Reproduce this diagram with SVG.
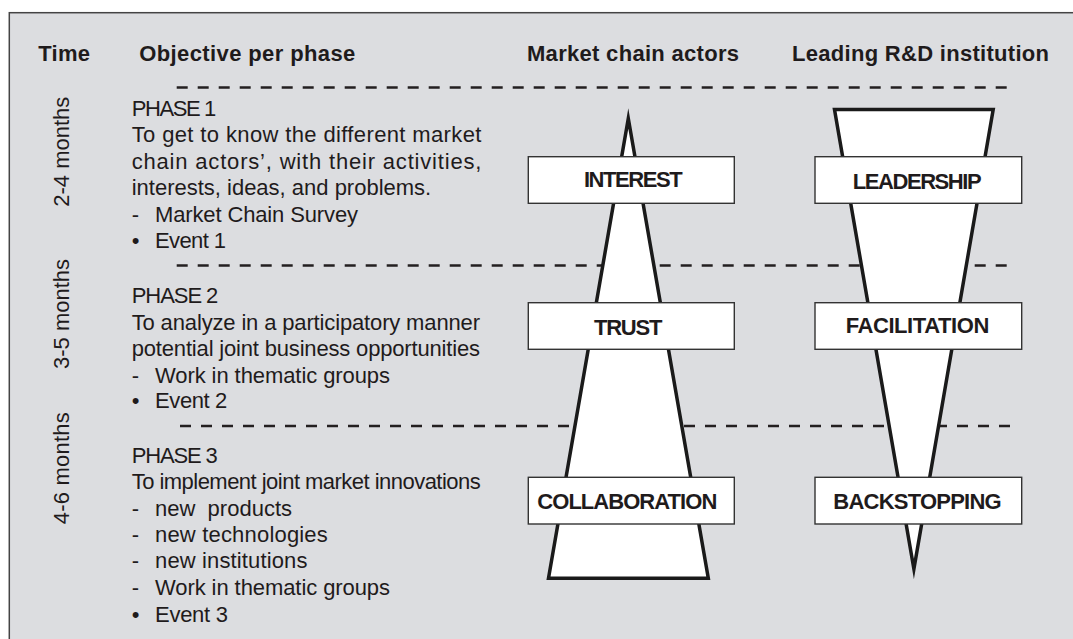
<svg xmlns="http://www.w3.org/2000/svg" width="1073" height="639" viewBox="0 0 1073 639">
<style>
text{font-family:"Liberation Sans",Arial,Helvetica,sans-serif;fill:#1f1b1c}
.h{font-size:22px;font-weight:bold}
.t{font-size:22px}
.v{font-size:22px;text-anchor:middle}
.lbl{font-size:22px;font-weight:bold;text-anchor:middle}
.sep{stroke:#231f20;stroke-width:2.4;stroke-dasharray:11 10;fill:none}
.shape{fill:#fff;stroke:#1a1a1a;stroke-width:3.5;stroke-linejoin:miter;stroke-miterlimit:12}
.box{fill:#fff;stroke:#333;stroke-width:1.4}
</style>
<rect x="0" y="0" width="1073" height="639" fill="#fff"/>
<rect x="9.3" y="12.7" width="1100" height="700" fill="#dcdde0" stroke="#444" stroke-width="1.5"/>

<g id="headers">
<text class="h" x="38.3" y="61" textLength="51.7" lengthAdjust="spacing">Time</text>
<text class="h" x="139.3" y="61" textLength="216" lengthAdjust="spacing">Objective per phase</text>
<text class="h" x="527" y="61" textLength="212" lengthAdjust="spacing">Market chain actors</text>
<text class="h" x="792" y="61" textLength="257" lengthAdjust="spacing">Leading R&amp;D institution</text>
</g>

<g id="time-labels">
<text class="v" transform="translate(68.5,151.7) rotate(-90)" x="0" y="0" textLength="110" lengthAdjust="spacing">2-4 months</text>
<text class="v" transform="translate(68.5,314) rotate(-90)" x="0" y="0" textLength="110" lengthAdjust="spacing">3-5 months</text>
<text class="v" transform="translate(68.5,468.3) rotate(-90)" x="0" y="0" textLength="112" lengthAdjust="spacing">4-6 months</text>
</g>

<g id="connectors">
<line class="sep" x1="176.7" y1="87.5" x2="1009" y2="87.5"/>
<line class="sep" x1="176.7" y1="265.5" x2="1010" y2="265.5"/>
<line class="sep" x1="180" y1="426" x2="1013" y2="426"/>
</g>

<g id="phase1">
<text class="t" x="131.7" y="115.5" textLength="84.5" lengthAdjust="spacing">PHASE 1</text>
<text class="t" x="131.7" y="142" textLength="349.7" lengthAdjust="spacing">To get to know the different market</text>
<text class="t" x="131.7" y="168.5" textLength="349.7" lengthAdjust="spacing">chain actors’, with their activities,</text>
<text class="t" x="131.7" y="195" textLength="299.5" lengthAdjust="spacing">interests, ideas, and problems.</text>
<text class="t" x="131.7" y="221.5">-</text>
<text class="t" x="155" y="221.5" textLength="203" lengthAdjust="spacing">Market Chain Survey</text>
<text class="t" x="131.7" y="248">•</text>
<text class="t" x="155" y="248" textLength="71" lengthAdjust="spacing">Event 1</text>
</g>

<g id="phase2">
<text class="t" x="131.7" y="303.3" textLength="86.6" lengthAdjust="spacing">PHASE 2</text>
<text class="t" x="131.7" y="330" textLength="348.3" lengthAdjust="spacing">To analyze in a participatory manner</text>
<text class="t" x="131.7" y="356" textLength="348.3" lengthAdjust="spacing">potential joint business opportunities</text>
<text class="t" x="131.7" y="382.7">-</text>
<text class="t" x="155" y="382.7" textLength="235" lengthAdjust="spacing">Work in thematic groups</text>
<text class="t" x="131.7" y="408.3">•</text>
<text class="t" x="155" y="408.3" textLength="72.3" lengthAdjust="spacing">Event 2</text>
</g>

<g id="phase3">
<text class="t" x="131.7" y="463" textLength="86" lengthAdjust="spacing">PHASE 3</text>
<text class="t" x="131.7" y="489" textLength="349" lengthAdjust="spacing">To implement joint market innovations</text>
<text class="t" x="131.7" y="515.5">-</text>
<text class="t" x="155" y="515.5" textLength="137" lengthAdjust="spacing" xml:space="preserve">new  products</text>
<text class="t" x="131.7" y="542">-</text>
<text class="t" x="155" y="542" textLength="172.8" lengthAdjust="spacing">new technologies</text>
<text class="t" x="131.7" y="568.3">-</text>
<text class="t" x="155" y="568.3" textLength="152.5" lengthAdjust="spacing">new institutions</text>
<text class="t" x="131.7" y="595">-</text>
<text class="t" x="155" y="595" textLength="235" lengthAdjust="spacing">Work in thematic groups</text>
<text class="t" x="131.7" y="621.7">•</text>
<text class="t" x="155" y="621.7" textLength="73" lengthAdjust="spacing">Event 3</text>
</g>

<g id="market-actors-shape">
<polygon class="shape" points="628.3,118.5 708.3,578.3 548.5,578.3"/>
</g>
<g id="rd-institution-shape">
<polygon class="shape" points="834.5,109.5 993.2,109.5 913.9,569"/>
</g>

<g id="node-interest">
<rect class="box" x="528.3" y="156.7" width="206" height="46.6"/>
<text class="lbl" x="633.3" y="186.7" textLength="98.7" lengthAdjust="spacing">INTEREST</text>
</g>
<g id="node-leadership">
<rect class="box" x="815" y="156.7" width="206.7" height="46.6"/>
<text class="lbl" x="917.2" y="189" textLength="129" lengthAdjust="spacing">LEADERSHIP</text>
</g>
<g id="node-trust">
<rect class="box" x="528.3" y="302.7" width="206" height="46.6"/>
<text class="lbl" x="628.2" y="335" textLength="68.3" lengthAdjust="spacing">TRUST</text>
</g>
<g id="node-facilitation">
<rect class="box" x="815" y="302.7" width="206.7" height="46.6"/>
<text class="lbl" x="917.5" y="333" textLength="143.6" lengthAdjust="spacing">FACILITATION</text>
</g>
<g id="node-collaboration">
<rect class="box" x="528.3" y="477.3" width="206" height="46.7"/>
<text class="lbl" x="627.3" y="509" textLength="180" lengthAdjust="spacing">COLLABORATION</text>
</g>
<g id="node-backstopping">
<rect class="box" x="815" y="477.3" width="206.7" height="46.7"/>
<text class="lbl" x="917.5" y="509" textLength="168.4" lengthAdjust="spacing">BACKSTOPPING</text>
</g>
</svg>
